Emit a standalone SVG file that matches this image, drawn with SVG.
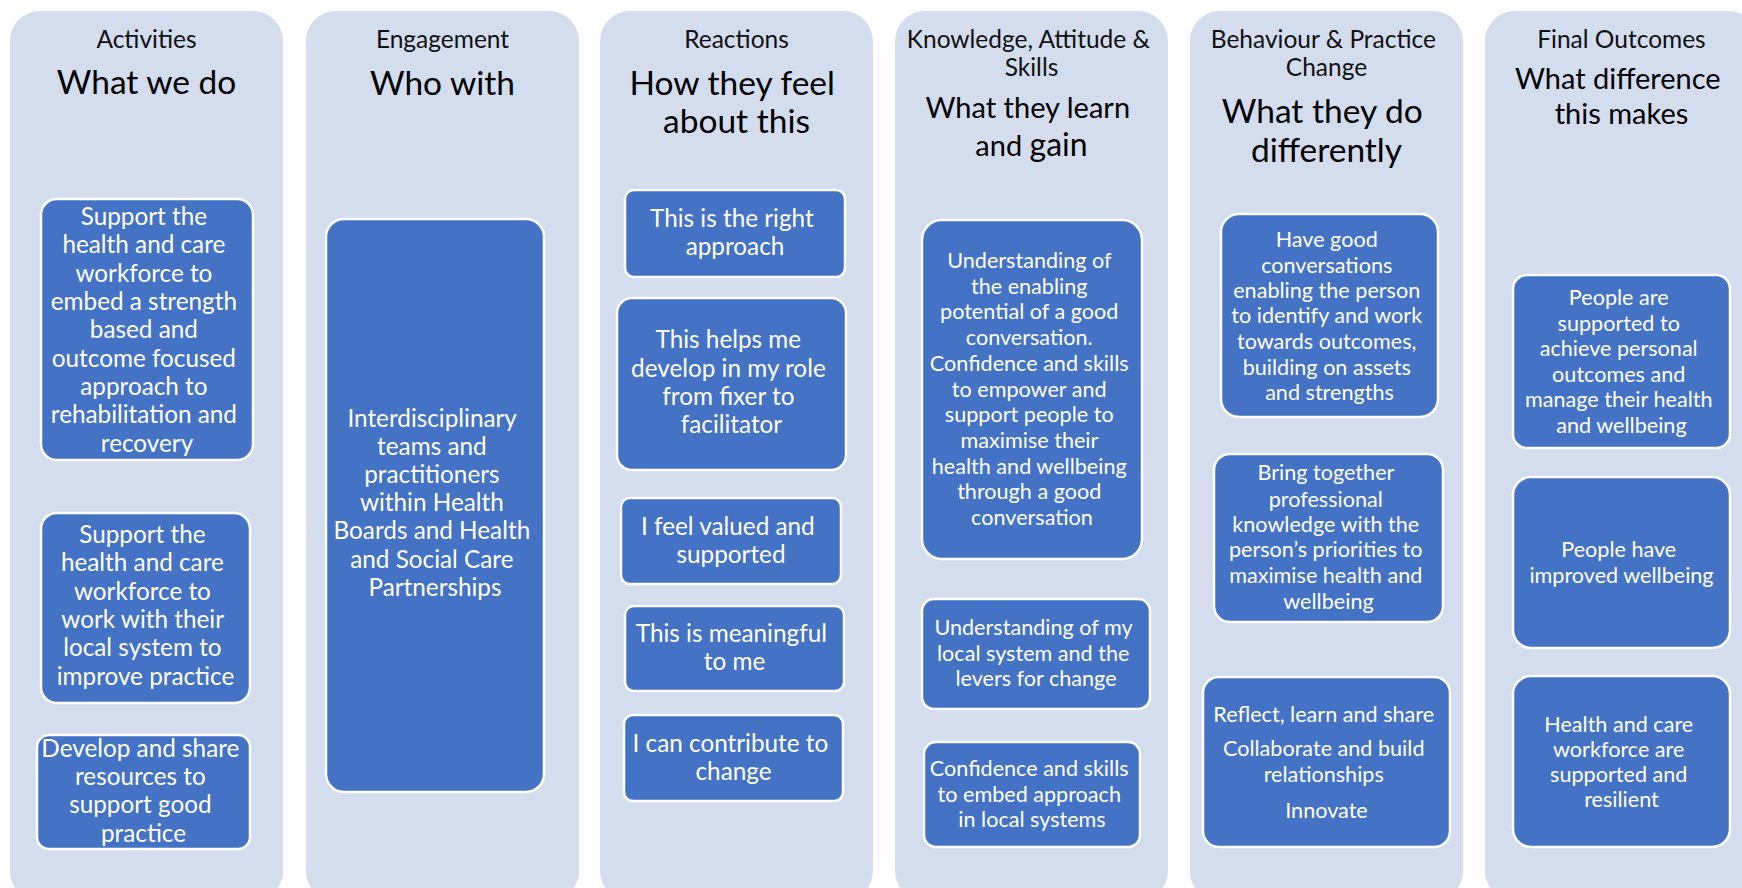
<svg xmlns="http://www.w3.org/2000/svg" width="1742" height="888" viewBox="0 0 1742 888">
  <style>
    .col { fill: #D3DDEE; }
    .box { fill: #4472C4; stroke: #FFFFFF; stroke-width: 2.5; }
    text { font-family: Lato, "Open Sans", "Liberation Sans", sans-serif; text-anchor: middle; }
    .hd { font-size: 24.5px; fill: #111111; }
    .sub { font-size: 33.5px; fill: #000000; }
    .subs { font-size: 29px; fill: #000000; }
    .t1 { font-size: 24.3px; fill: #FFFFFF; }
    .t2 { font-size: 21.6px; fill: #FFFFFF; }
  </style>

  <rect width="1742" height="888" fill="#FFFFFF"/>

  <!-- Column 1: Activities -->
  <g id="col-activities">
    <rect class="col" x="10" y="11" width="273" height="890" rx="30"/>
    <text class="hd" x="146.5" y="48">Activities</text>
    <text class="sub" x="146.5" y="94">What we do</text>
  </g>
  <g id="act-embed">
    <rect class="box" x="41" y="199" width="212" height="261" rx="16"/>
    <text class="t1">
      <tspan x="147" y="225">Support the</tspan>
      <tspan x="147" y="253">health and care</tspan>
      <tspan x="147" y="282">workforce to</tspan>
      <tspan x="147" y="310">embed a strength</tspan>
      <tspan x="147" y="338">based and</tspan>
      <tspan x="147" y="367">outcome focused</tspan>
      <tspan x="147" y="395">approach to</tspan>
      <tspan x="147" y="423">rehabilitation and</tspan>
      <tspan x="147" y="452">recovery</tspan>
    </text>
  </g>
  <g id="act-local">
    <rect class="box" x="41" y="513" width="209" height="190" rx="16"/>
    <text class="t1">
      <tspan x="145.5" y="543">Support the</tspan>
      <tspan x="145.5" y="571">health and care</tspan>
      <tspan x="145.5" y="600">workforce to</tspan>
      <tspan x="145.5" y="628">work with their</tspan>
      <tspan x="145.5" y="656">local system to</tspan>
      <tspan x="145.5" y="685">improve practice</tspan>
    </text>
  </g>
  <g id="act-resources">
    <rect class="box" x="37" y="735" width="213" height="114" rx="12"/>
    <text class="t1">
      <tspan x="143.5" y="757">Develop and share</tspan>
      <tspan x="143.5" y="785">resources to</tspan>
      <tspan x="143.5" y="813">support good</tspan>
      <tspan x="143.5" y="842">practice</tspan>
    </text>
  </g>

  <!-- Column 2: Engagement -->
  <g id="col-engagement">
    <rect class="col" x="306" y="11" width="273" height="890" rx="30"/>
    <text class="hd" x="442.5" y="48">Engagement</text>
    <text class="sub" x="442.5" y="95">Who with</text>
  </g>
  <g id="eng-teams">
    <rect class="box" x="326" y="219" width="218" height="573" rx="18"/>
    <text class="t1">
      <tspan x="435" y="427">Interdisciplinary</tspan>
      <tspan x="435" y="455">teams and</tspan>
      <tspan x="435" y="483">practitioners</tspan>
      <tspan x="435" y="511">within Health</tspan>
      <tspan x="435" y="539">Boards and Health</tspan>
      <tspan x="435" y="568">and Social Care</tspan>
      <tspan x="435" y="596">Partnerships</tspan>
    </text>
  </g>

  <!-- Column 3: Reactions -->
  <g id="col-reactions">
    <rect class="col" x="600" y="11" width="273" height="890" rx="30"/>
    <text class="hd" x="736.5" y="48">Reactions</text>
    <text class="sub">
      <tspan x="736.5" y="95">How they feel</tspan>
      <tspan x="736.5" y="133">about this</tspan>
    </text>
  </g>
  <g id="react-approach">
    <rect class="box" x="625" y="190" width="220" height="87" rx="9"/>
    <text class="t1">
      <tspan x="735" y="227">This is the right</tspan>
      <tspan x="735" y="255">approach</tspan>
    </text>
  </g>
  <g id="react-role">
    <rect class="box" x="617" y="298" width="229" height="172" rx="15"/>
    <text class="t1">
      <tspan x="731.5" y="348">This helps me</tspan>
      <tspan x="731.5" y="377">develop in my role</tspan>
      <tspan x="731.5" y="405">from fixer to</tspan>
      <tspan x="731.5" y="433">facilitator</tspan>
    </text>
  </g>
  <g id="react-valued">
    <rect class="box" x="621" y="498" width="220" height="86" rx="9"/>
    <text class="t1">
      <tspan x="731" y="535">I feel valued and</tspan>
      <tspan x="731" y="563">supported</tspan>
    </text>
  </g>
  <g id="react-meaningful">
    <rect class="box" x="625" y="606" width="219" height="85" rx="9"/>
    <text class="t1">
      <tspan x="734.5" y="642">This is meaningful</tspan>
      <tspan x="734.5" y="670">to me</tspan>
    </text>
  </g>
  <g id="react-contribute">
    <rect class="box" x="624" y="715" width="219" height="86" rx="9"/>
    <text class="t1">
      <tspan x="733.5" y="752">I can contribute to</tspan>
      <tspan x="733.5" y="780">change</tspan>
    </text>
  </g>

  <!-- Column 4: Knowledge, Attitude & Skills -->
  <g id="col-knowledge">
    <rect class="col" x="895" y="11" width="273" height="890" rx="30"/>
    <text class="hd">
      <tspan x="1031.5" y="48">Knowledge, Attitude &amp;</tspan>
      <tspan x="1031.5" y="76">Skills</tspan>
    </text>
    <text class="subs">
      <tspan x="1031.5" y="118">What they learn</tspan>
      <tspan x="1031.5" y="156">and <tspan style="font-size:32px">gain</tspan></tspan>
    </text>
  </g>
  <g id="know-conversation">
    <rect class="box" x="922" y="220" width="220" height="339" rx="20"/>
    <text class="t2">
      <tspan x="1032" y="268">Understanding of</tspan>
      <tspan x="1032" y="294">the enabling</tspan>
      <tspan x="1032" y="319">potential of a good</tspan>
      <tspan x="1032" y="345">conversation.</tspan>
      <tspan x="1032" y="371">Confidence and skills</tspan>
      <tspan x="1032" y="397">to empower and</tspan>
      <tspan x="1032" y="422">support people to</tspan>
      <tspan x="1032" y="448">maximise their</tspan>
      <tspan x="1032" y="474">health and wellbeing</tspan>
      <tspan x="1032" y="499">through a good</tspan>
      <tspan x="1032" y="525">conversation</tspan>
    </text>
  </g>
  <g id="know-levers">
    <rect class="box" x="922" y="599" width="228" height="110" rx="12"/>
    <text class="t2">
      <tspan x="1036" y="635">Understanding of my</tspan>
      <tspan x="1036" y="661">local system and the</tspan>
      <tspan x="1036" y="686">levers for change</tspan>
    </text>
  </g>
  <g id="know-embed">
    <rect class="box" x="924" y="742" width="216" height="105" rx="12"/>
    <text class="t2">
      <tspan x="1032" y="776">Confidence and skills</tspan>
      <tspan x="1032" y="802">to embed approach</tspan>
      <tspan x="1032" y="827">in local systems</tspan>
    </text>
  </g>

  <!-- Column 5: Behaviour & Practice Change -->
  <g id="col-behaviour">
    <rect class="col" x="1190" y="11" width="273" height="890" rx="30"/>
    <text class="hd">
      <tspan x="1326.5" y="48">Behaviour &amp; Practice</tspan>
      <tspan x="1326.5" y="76">Change</tspan>
    </text>
    <text class="sub">
      <tspan x="1326.5" y="123">What they do</tspan>
      <tspan x="1326.5" y="162">differently</tspan>
    </text>
  </g>
  <g id="beh-conversations">
    <rect class="box" x="1221" y="214" width="217" height="203" rx="18"/>
    <text class="t2">
      <tspan x="1329.5" y="247">Have good</tspan>
      <tspan x="1329.5" y="273">conversations</tspan>
      <tspan x="1329.5" y="298">enabling the person</tspan>
      <tspan x="1329.5" y="323">to identify and work</tspan>
      <tspan x="1329.5" y="349">towards outcomes,</tspan>
      <tspan x="1329.5" y="375">building  on assets</tspan>
      <tspan x="1329.5" y="400">and strengths</tspan>
    </text>
  </g>
  <g id="beh-knowledge">
    <rect class="box" x="1214" y="454" width="229" height="168" rx="16"/>
    <text class="t2">
      <tspan x="1328.5" y="480">Bring together</tspan>
      <tspan x="1328.5" y="507">professional</tspan>
      <tspan x="1328.5" y="532">knowledge with the</tspan>
      <tspan x="1328.5" y="557">person’s priorities to</tspan>
      <tspan x="1328.5" y="583">maximise health and</tspan>
      <tspan x="1328.5" y="609">wellbeing</tspan>
    </text>
  </g>
  <g id="beh-reflect">
    <rect class="box" x="1203" y="677" width="247" height="170" rx="16"/>
    <text class="t2">
      <tspan x="1326.5" y="722">Reflect, learn and share</tspan>
      <tspan x="1326.5" y="756">Collaborate and build</tspan>
      <tspan x="1326.5" y="782">relationships</tspan>
      <tspan x="1326.5" y="818">Innovate</tspan>
    </text>
  </g>

  <!-- Column 6: Final Outcomes -->
  <g id="col-outcomes">
    <rect class="col" x="1485" y="11" width="273" height="890" rx="30"/>
    <text class="hd" x="1621.5" y="48">Final Outcomes</text>
    <text class="subs">
      <tspan x="1621.5" y="89">What difference</tspan>
      <tspan x="1621.5" y="124">this makes</tspan>
    </text>
  </g>
  <g id="out-personal">
    <rect class="box" x="1513" y="275" width="217" height="173" rx="14"/>
    <text class="t2">
      <tspan x="1621.5" y="305">People are</tspan>
      <tspan x="1621.5" y="331">supported to</tspan>
      <tspan x="1621.5" y="356">achieve personal</tspan>
      <tspan x="1621.5" y="382">outcomes and</tspan>
      <tspan x="1621.5" y="407">manage their health</tspan>
      <tspan x="1621.5" y="433">and wellbeing</tspan>
    </text>
  </g>
  <g id="out-wellbeing">
    <rect class="box" x="1513" y="477" width="217" height="171" rx="18"/>
    <text class="t2">
      <tspan x="1621.5" y="557">People have</tspan>
      <tspan x="1621.5" y="583">improved wellbeing</tspan>
    </text>
  </g>
  <g id="out-workforce">
    <rect class="box" x="1513" y="676" width="217" height="171" rx="18"/>
    <text class="t2">
      <tspan x="1621.5" y="732">Health and care</tspan>
      <tspan x="1621.5" y="757">workforce are</tspan>
      <tspan x="1621.5" y="782">supported and</tspan>
      <tspan x="1621.5" y="807">resilient</tspan>
    </text>
  </g>
</svg>
